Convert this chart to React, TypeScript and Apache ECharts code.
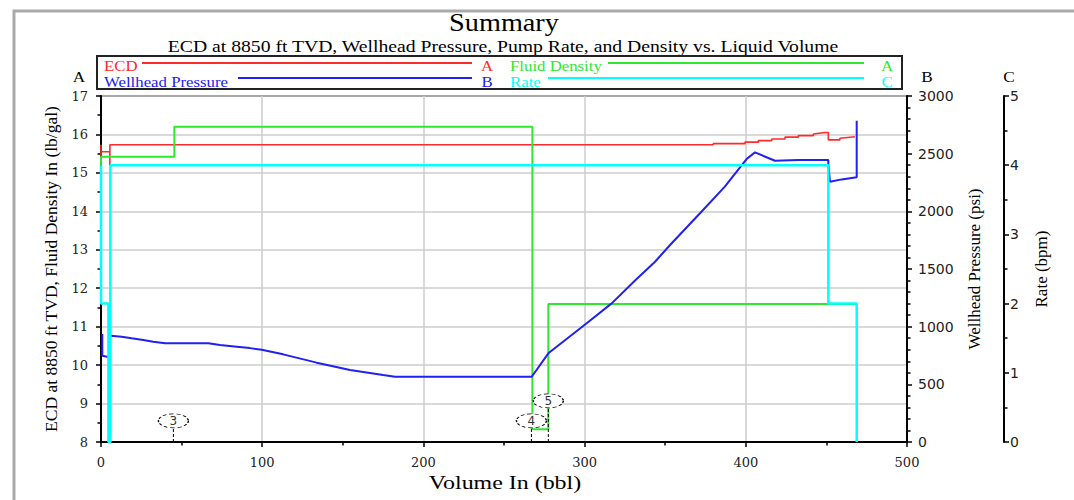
import React, { useEffect, useRef } from "react";
import * as echarts from "echarts";

// ---------- data ----------
const ecdVolume = [0, 0, 0, 5.5, 5.5, 5.5, 379.8, 379.8, 399.5, 399.5, 407.8, 407.8, 416.1, 416.1, 424.3, 424.3, 432.6, 432.6, 441.9, 441.9, 449.1, 451.2, 451.2, 458.4, 458.4, 467.7];
const ecdValue = [15.73, 15.42, 15.55, 15.55, 15.2, 15.73, 15.73, 15.76, 15.76, 15.8, 15.8, 15.84, 15.84, 15.88, 15.88, 15.93, 15.93, 15.97, 15.97, 16.01, 16.05, 16.05, 15.86, 15.86, 15.9, 15.94];

const densityVolume = [0, 0, 45.5, 45.5, 267.6, 267.6, 277.5, 277.5, 468.8];
const densityValue = [15.2, 15.42, 15.42, 16.2, 16.2, 8.33, 8.33, 11.59, 11.59];

const whpVolume = [0.8, 0.8, 5.3, 5.3, 6, 12.8, 19, 26.2, 32.4, 39.7, 66.6, 73.8, 84.2, 92.4, 99.7, 113, 133.8, 154.5, 175, 182.4, 267.2, 277.5, 301.3, 316.8, 331.3, 343.7, 353, 371.6, 387, 396.4, 400.5, 405.7, 418.1, 432.6, 451.2, 451.2, 452.2, 459.5, 468.8, 468.8];
const whpValue = [936, 748, 734, 921, 921, 913, 899, 884, 870, 856, 856, 841, 826, 814, 800, 760, 688, 624, 581, 566, 566, 769, 1029, 1202, 1400, 1563, 1708, 1983, 2214, 2381, 2453, 2511, 2439, 2445, 2445, 2410, 2257, 2277, 2295, 2786];

const rateVolume = [0, 0, 4.6, 4.6, 5.8, 5.8, 451.2, 451.2, 468.8, 468.8];
const rateValue = [4.0, 2.0, 2.0, 0, 0, 4.0, 4.0, 2.0, 2.0, 0];

const markerLabels = ["3", "4", "5"];
const markerVolume = [44.9, 267.0, 277.5];
const markerLevel = [8.55, 8.55, 9.07];

const seriesNames = ["ECD", "Fluid Density", "Wellhead Pressure", "Rate"];
const seriesAxisLetters = ["A", "A", "B", "C"];
const axisLetters = ["A", "B", "C"];

const titleText = "Summary";
const subtitleText = "ECD at 8850 ft TVD, Wellhead Pressure, Pump Rate, and Density vs. Liquid Volume";
const xAxisName = "Volume In (bbl)";
const leftAxisName = "ECD at 8850 ft TVD, Fluid Density In (lb/gal)";
const pressureAxisName = "Wellhead Pressure (psi)";
const rateAxisName = "Rate (bpm)";

// ---------- styles ----------
const COLORS = ["#ff2a2a", "#2ee82e", "#2020f0", "#00ffff"];
const SERIF = '"Liberation Serif", "Times New Roman", serif';
const LABEL_SERIF = '"DejaVu Serif", serif';
const SANS = '"DejaVu Sans", sans-serif';

const zip = (xs: number[], ys: number[]) => xs.map((x, i) => [x, ys[i]]);
const plain = (v: number) => String(v);

function buildOption() {
  const axisCommon = {
    axisLine: { show: true, lineStyle: { color: "#000", width: 2 } },
    axisTick: { show: true, inside: false, length: 5, lineStyle: { color: "#000", width: 1.5 } },
    minorTick: { show: true, length: 3.5, lineStyle: { color: "#000", width: 1.5 } },
  };

  const legendCols = [
    { textX: 104, lineX1: 142, lineX2: 472, letterX: 487 },
    { textX: 510, lineX1: 608, lineX2: 864, letterX: 887 },
  ];
  const legendRows = [
    { textY: 66, lineY: 63 },
    { textY: 82, lineY: 78 },
  ];
  const legendItems = [
    { idx: 0, col: 0, row: 0 },
    { idx: 1, col: 1, row: 0 },
    { idx: 2, col: 0, row: 1, lineX1: 238 },
    { idx: 3, col: 1, row: 1, lineX1: 548 },
  ];

  const legendGraphics: any[] = [];
  legendItems.forEach((it: any) => {
    const c = legendCols[it.col];
    const r = legendRows[it.row];
    const color = COLORS[it.idx];
    legendGraphics.push({
      type: "text",
      x: c.textX,
      y: r.textY,
      scaleX: 1.12,
      style: { text: seriesNames[it.idx], fill: color, font: `15px ${SERIF}`, align: "left", verticalAlign: "middle" },
    });
    legendGraphics.push({
      type: "line",
      shape: { x1: it.lineX1 ?? c.lineX1, y1: r.lineY, x2: c.lineX2, y2: r.lineY },
      style: { stroke: color, lineWidth: 2 },
    });
    legendGraphics.push({
      type: "text",
      x: c.letterX,
      y: r.textY,
      scaleX: 1.12,
      style: { text: seriesAxisLetters[it.idx], fill: color, font: `15px ${SERIF}`, align: "center", verticalAlign: "middle" },
    });
  });

  const headerX = [79, 927, 1009];

  const graphic: any[] = [
    { type: "rect", shape: { x: 14, y: 11, width: 1100, height: 540 }, style: { fill: "none", stroke: "#a9a9a9", lineWidth: 3 }, silent: true },
    { type: "text", x: 504, y: 23, scaleX: 1.13, style: { text: titleText, fill: "#000", font: `25px ${SERIF}`, align: "center", verticalAlign: "middle" } },
    { type: "text", x: 503, y: 47, scaleX: 1.23, style: { text: subtitleText, fill: "#000", font: `16px ${SERIF}`, align: "center", verticalAlign: "middle" } },
    { type: "rect", shape: { x: 97, y: 56, width: 805, height: 33 }, style: { fill: "none", stroke: "#222", lineWidth: 2 } },
    ...legendGraphics,
    ...axisLetters.map((t, i) => ({
      type: "text",
      x: headerX[i],
      y: 77,
      scaleX: 1.15,
      style: { text: t, fill: "#000", font: `15px ${SERIF}`, align: "center", verticalAlign: "middle" },
    })),
    { type: "text", x: 505, y: 483, scaleX: 1.33, style: { text: xAxisName, fill: "#000", font: `18px ${SERIF}`, align: "center", verticalAlign: "middle" } },
  ];

  const line = (name: string, data: number[][], color: string, width: number, yAxisIndex: number, z: number) => ({
    type: "line",
    name,
    data,
    yAxisIndex,
    symbol: "none",
    showSymbol: false,
    silent: true,
    z,
    lineStyle: { color, width },
    itemStyle: { color },
  });

  const stems = markerVolume.map((v, i) => ({
    type: "line",
    name: "marker stem " + markerLabels[i],
    yAxisIndex: 0,
    symbol: "none",
    silent: true,
    z: 9,
    data: [
      [v, 8],
      [v, markerLevel[i] - 0.19],
    ],
    lineStyle: { color: "#000", width: 1, type: [3, 2] },
  }));

  return {
    animation: false,
    backgroundColor: "#fff",
    graphic,
    grid: { left: 101, right: 167, top: 96, bottom: 58, show: true, borderColor: "#000", borderWidth: 1.5, backgroundColor: "transparent" },
    xAxis: {
      type: "value",
      min: 0,
      max: 500,
      interval: 100,
      ...axisCommon,
      minorTick: { ...axisCommon.minorTick, splitNumber: 2 },
      splitLine: { show: true, lineStyle: { color: "#cccccc", width: 1.5 } },
      axisLabel: { margin: 14, color: "#222", fontFamily: LABEL_SERIF, fontSize: 13, formatter: plain },
    },
    yAxis: [
      {
        type: "value",
        position: "left",
        min: 8,
        max: 17,
        interval: 1,
        ...axisCommon,
        minorTick: { ...axisCommon.minorTick, splitNumber: 2 },
        splitLine: { show: true, lineStyle: { color: "#cccccc", width: 1.5 } },
        axisLabel: { margin: 13, color: "#222", fontFamily: LABEL_SERIF, fontSize: 13, formatter: plain },
        name: leftAxisName,
        nameLocation: "middle",
        nameGap: 41,
        nameRotate: 90,
        nameTextStyle: { fontFamily: SERIF, fontSize: 17.5, color: "#000" },
      },
      {
        type: "value",
        position: "right",
        min: 0,
        max: 3000,
        interval: 500,
        ...axisCommon,
        minorTick: { ...axisCommon.minorTick, splitNumber: 5 },
        splitLine: { show: false },
        axisLabel: { margin: 11, color: "#222", fontFamily: SANS, fontSize: 14, formatter: plain },
        name: pressureAxisName,
        nameLocation: "middle",
        nameGap: 59,
        nameRotate: 90,
        nameTextStyle: { fontFamily: SERIF, fontSize: 17, color: "#000" },
      },
      {
        type: "value",
        position: "right",
        offset: 97,
        min: 0,
        max: 5,
        interval: 1,
        ...axisCommon,
        minorTick: { ...axisCommon.minorTick, splitNumber: 2 },
        splitLine: { show: false },
        axisLabel: { margin: 6, color: "#222", fontFamily: SANS, fontSize: 14, formatter: plain },
        name: rateAxisName,
        nameLocation: "middle",
        nameGap: 29,
        nameRotate: 90,
        nameTextStyle: { fontFamily: SERIF, fontSize: 17, color: "#000" },
      },
    ],
    series: [
      line(seriesNames[0], zip(ecdVolume, ecdValue), COLORS[0], 1.6, 0, 2),
      line(seriesNames[1], zip(densityVolume, densityValue), COLORS[1], 2, 0, 3),
      line(seriesNames[2], zip(whpVolume, whpValue), COLORS[2], 2, 1, 4),
      line(seriesNames[3], zip(rateVolume, rateValue), COLORS[3], 2.5, 2, 5),
      ...stems,
      {
        type: "scatter",
        name: "markers",
        yAxisIndex: 0,
        silent: true,
        z: 10,
        data: zip(markerVolume, markerLevel),
        symbol: "circle",
        symbolSize: [30, 14],
        itemStyle: { color: "#fff", borderColor: "#000", borderWidth: 1, borderType: [3, 2], opacity: 1 },
        label: {
          show: true,
          position: "inside",
          formatter: (p: any) => markerLabels[p.dataIndex],
          color: "#333",
          fontFamily: SANS,
          fontSize: 12,
        },
      },
    ],
  };
}

export default function App() {
  const ref = useRef<HTMLDivElement>(null);
  useEffect(() => {
    document.body.style.margin = "0";
    if (!ref.current) return;
    const chart = echarts.init(ref.current, undefined, { renderer: "svg" });
    chart.setOption(buildOption() as any);
    return () => chart.dispose();
  }, []);
  return <div ref={ref} style={{ width: 1074, height: 500 }} />;
}
